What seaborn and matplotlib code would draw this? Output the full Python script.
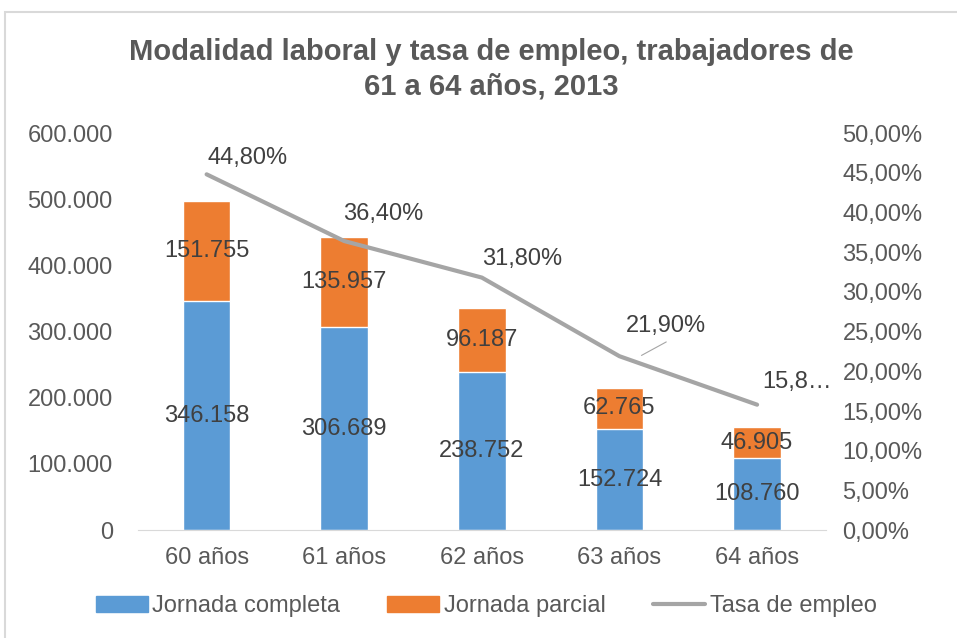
import numpy as np
import pandas as pd
import seaborn as sns
import matplotlib
matplotlib.use("Agg")
import matplotlib.pyplot as plt
from matplotlib.ticker import FuncFormatter
from matplotlib.patches import Rectangle
from matplotlib.lines import Line2D

edades = ["60 años", "61 años", "62 años", "63 años", "64 años"]
completa = [346158, 306689, 238752, 152724, 108760]
parcial = [151755, 135957, 96187, 62765, 46905]
tasa = [44.80, 36.40, 31.80, 21.90, 15.80]
tasa_txt = ["44,80%", "36,40%", "31,80%", "21,90%", "15,8…"]

AZUL = "#5B9BD5"
NARANJA = "#ED7D31"
GRIS = "#A5A5A5"
TEXTO = "#595959"
FS = 17

sns.set_style("white")
plt.rcParams["font.family"] = ["Liberation Sans", "DejaVu Sans"]

df = pd.DataFrame({"edad": edades, "completa": completa, "parcial": parcial})
df["total"] = df["completa"] + df["parcial"]


def miles(v):
    return f"{int(v):,}".replace(",", ".")


fig = plt.figure(figsize=(9.57, 6.38), dpi=100)
ax = fig.add_axes([0.144, 0.169, 0.719, 0.6225])

sns.barplot(data=df, x="edad", y="total", color=NARANJA, width=0.345,
            saturation=1, ax=ax)
sns.barplot(data=df, x="edad", y="completa", color=AZUL, width=0.345,
            saturation=1, ax=ax)

ax.set_ylim(0, 600000)
ax.set_yticks(np.arange(0, 600001, 100000))
ax.yaxis.set_major_formatter(FuncFormatter(lambda v, p: miles(v)))
ax.set_xlim(-0.5, len(edades) - 0.5)
ax.set_xlabel("")
ax.set_ylabel("")
for s in ["top", "right", "left"]:
    ax.spines[s].set_visible(False)
ax.spines["bottom"].set_color("#D9D9D9")
ax.tick_params(axis="both", length=0, labelsize=FS, labelcolor=TEXTO)
ax.tick_params(axis="x", pad=12)
ax.tick_params(axis="y", pad=18)

for i, row in df.iterrows():
    ax.text(i, row["completa"] / 2, miles(row["completa"]), ha="center",
            va="center", fontsize=FS, color="#404040")
    ax.text(i, row["completa"] + row["parcial"] / 2, miles(row["parcial"]),
            ha="center", va="center", fontsize=FS, color="#404040")

ax2 = ax.twinx()
sns.lineplot(x=np.arange(len(edades)), y=tasa, color=GRIS, linewidth=3,
             sort=False, ax=ax2)
ax2.set_ylim(0, 50)
ax2.set_yticks(np.arange(0, 50.1, 5))
ax2.yaxis.set_major_formatter(FuncFormatter(lambda v, p: f"{v:.2f}%".replace(".", ",")))
for s in ["top", "right", "left", "bottom"]:
    ax2.spines[s].set_visible(False)
ax2.tick_params(axis="y", length=0, labelsize=FS, labelcolor=TEXTO, pad=12)

offsets = [(0.3, 2.1), (0.28, 3.4), (0.29, 2.4), (0.34, 3.8), (0.29, 2.8)]
for i, (t, lab) in enumerate(zip(tasa, tasa_txt)):
    dx, dy = offsets[i]
    ax2.text(i + dx, t + dy, lab, ha="center", va="center", fontsize=FS,
             color="#404040")
ax2.plot([3.16, 3.34], [22.0, 23.7], color=GRIS, linewidth=0.8)

fig.text(0.513, 0.918, "Modalidad laboral y tasa de empleo, trabajadores de",
         ha="center", va="center", fontsize=21, fontweight="bold",
         color=TEXTO, family=["Liberation Sans Narrow", "Liberation Sans"])
fig.text(0.513, 0.864, "61 a 64 años, 2013", ha="center", va="center",
         fontsize=21, fontweight="bold", color=TEXTO,
         family=["Liberation Sans Narrow", "Liberation Sans"])

handles = [Rectangle((0, 0), 1, 1, color=AZUL),
           Rectangle((0, 0), 1, 1, color=NARANJA),
           Line2D([0], [0], color=GRIS, linewidth=3)]
fig.legend(handles, ["Jornada completa", "Jornada parcial", "Tasa de empleo"],
           loc="center", bbox_to_anchor=(0.508, 0.05), ncol=3, frameon=False,
           fontsize=FS, labelcolor=TEXTO, handlelength=2.2, handleheight=0.7,
           handletextpad=0.2, columnspacing=2.0)

fig.patches.append(Rectangle((5 / 957, -0.1), 1.2, 1 - 12 / 638 + 0.1,
                             transform=fig.transFigure, fill=False,
                             edgecolor="#D9D9D9", linewidth=1.5))

fig.savefig("out.png", dpi=100)
